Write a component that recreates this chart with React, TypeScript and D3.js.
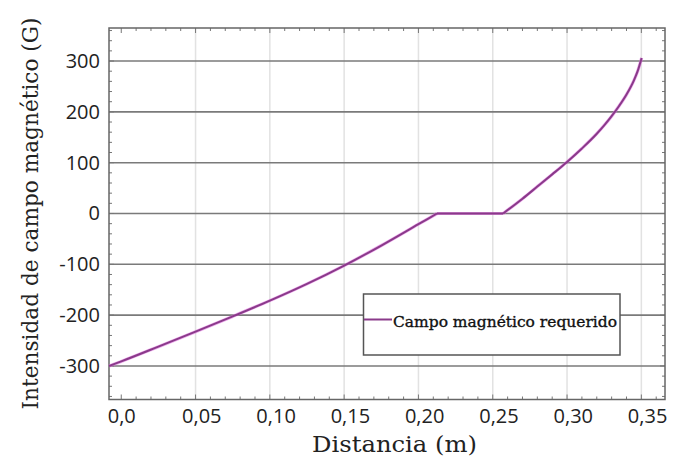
import React from "react";
import * as d3 from "d3";

const xLeft = [-0.0082, 0.0, 0.025, 0.05, 0.075, 0.1, 0.125, 0.15, 0.175, 0.2, 0.2125];
const yLeft = [-300, -291, -262, -232.5, -202.5, -171.5, -138.5, -102.5, -63, -21, 0];
const xFlat = [0.2125, 0.257];
const yFlat = [0, 0];
const xRight = [0.257, 0.27, 0.28, 0.29, 0.3, 0.31, 0.32, 0.325, 0.33, 0.335, 0.34, 0.345, 0.3475, 0.3502];
const yRight = [0, 29, 53, 77, 101.5, 128, 157, 173.5, 191.5, 211.5, 234, 262, 280, 306];

const xTicks = [0, 0.05, 0.1, 0.15, 0.2, 0.25, 0.3, 0.35];
const xTickLabels = ["0,0", "0,05", "0,10", "0,15", "0,20", "0,25", "0,30", "0,35"];
const yTicks = [-300, -200, -100, 0, 100, 200, 300];
const yTickLabels = ["-300", "-200", "-100", "0", "100", "200", "300"];

const seriesName = "Campo magnético requerido";
const xTitle = "Distancia (m)";
const yTitle = "Intensidad de campo magnético (G)";

export default function App() {
  const W = 675, H = 467;
  const L = 109, R = 665, T = 28, B = 399.5;
  const x = d3.scaleLinear().domain([0, 0.35]).range([121.25, 121.25 + 0.35 * 1486]);
  const y = d3.scaleLinear().domain([-366, 365]).range([B, T]);

  const toPts = (xs: number[], ys: number[]) => xs.map((v, i) => [v, ys[i]] as [number, number]);
  const curved = d3
    .line<[number, number]>()
    .x((d) => x(d[0]))
    .y((d) => y(d[1]))
    .curve(d3.curveMonotoneX);
  const straight = d3
    .line<[number, number]>()
    .x((d) => x(d[0]))
    .y((d) => y(d[1]));

  const paths = [
    curved(toPts(xLeft, yLeft)) || "",
    straight(toPts(xFlat, yFlat)) || "",
    curved(toPts(xRight, yRight)) || "",
  ];

  const xMinor = d3.range(0, 37).map((i) => i * 0.01).filter((v) => x(v) <= R - 1);
  const yMinor = d3.range(-360, 361, 20);

  const serif = "'DejaVu Serif', serif";
  const sans = "'Open Sans', sans-serif";

  return (
    <svg width={W} height={H} style={{ position: "absolute", left: 0, top: 0, background: "#fff" }}>
      <rect x={0} y={0} width={W} height={H} fill="#fff" />
      {xTicks.slice(1).map((t) => (
        <line key={"vg" + t} x1={x(t)} x2={x(t)} y1={T} y2={B} stroke="#e2e2e2" strokeWidth={1.5} />
      ))}
      {yTicks.map((t) => (
        <line key={"hg" + t} x1={L} x2={R} y1={y(t)} y2={y(t)} stroke="#7a7a7a" strokeWidth={1.6} />
      ))}
      {xMinor.map((v, i) => {
        const major = i % 5 === 0;
        const len = major ? 5 : 3;
        return (
          <g key={"xt" + i} stroke="#777" strokeWidth={1}>
            <line x1={x(v)} x2={x(v)} y1={B} y2={B - len} />
            <line x1={x(v)} x2={x(v)} y1={T} y2={T + len} />
          </g>
        );
      })}
      {yMinor.map((v, i) => {
        const major = v % 100 === 0;
        const len = major ? 5 : 3;
        return (
          <g key={"yt" + i} stroke="#777" strokeWidth={1}>
            <line x1={L} x2={L + len} y1={y(v)} y2={y(v)} />
            <line x1={R} x2={R - len} y1={y(v)} y2={y(v)} />
          </g>
        );
      })}
      <rect x={L} y={T} width={R - L} height={B - T} fill="none" stroke="#666" strokeWidth={1.5} />
      {paths.map((d, i) => (
        <path key={"g" + i} d={d} fill="none" stroke="#e070e0" strokeWidth={3.2} opacity={0.6} />
      ))}
      {paths.map((d, i) => (
        <path key={"c" + i} d={d} fill="none" stroke="#8a3a8a" strokeWidth={2} />
      ))}
      {yTicks.map((t, i) => (
        <text key={"yl" + t} x={100} y={y(t)} dy="0.35em" textAnchor="end" fontFamily={sans} fontSize={20} fill="#222">
          {yTickLabels[i]}
        </text>
      ))}
      {xTicks.map((t, i) => (
        <text key={"xl" + t} x={x(t) - 13.5} y={423} textAnchor="start" fontFamily={sans} fontSize={20} fill="#222">
          {xTickLabels[i]}
        </text>
      ))}
      <text x={394.5} y={452} textAnchor="middle" fontFamily={serif} fontSize={23} fill="#222" textLength={165} lengthAdjust="spacingAndGlyphs">
        {xTitle}
      </text>
      <text transform="translate(38,213.5) rotate(-90)" textAnchor="middle" fontFamily={serif} fontSize={22} fill="#222" textLength={392} lengthAdjust="spacingAndGlyphs">
        {yTitle}
      </text>
      <rect x={363.5} y={294} width={256.5} height={61} fill="#fff" stroke="#555" strokeWidth={1.5} />
      <line x1={364} x2={392} y1={319.5} y2={319.5} stroke="#8a3a8a" strokeWidth={2} />
      <text x={393} y={327} fontFamily={serif} fontSize={15.5} fill="#111" stroke="#111" strokeWidth={0.35} textLength={224} lengthAdjust="spacingAndGlyphs">
        {seriesName}
      </text>
    </svg>
  );
}
